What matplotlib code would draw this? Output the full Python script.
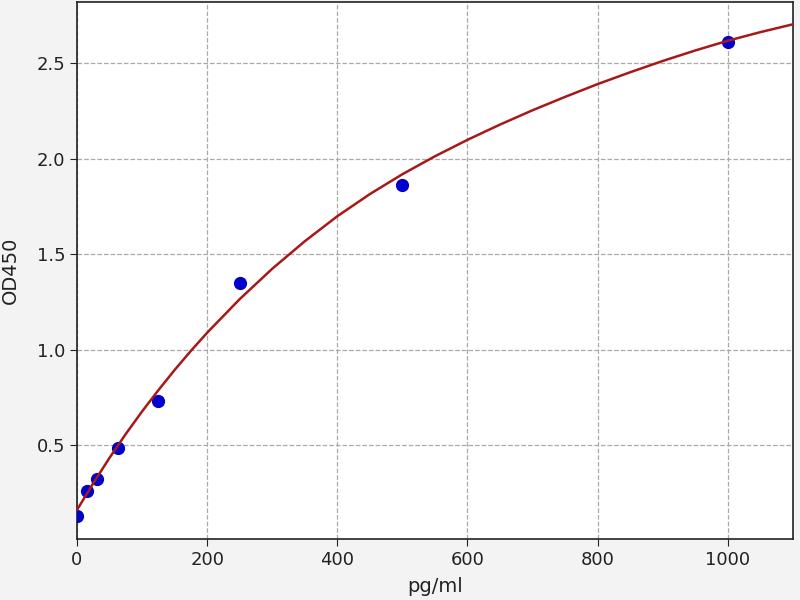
import matplotlib
matplotlib.use('Agg')
from matplotlib import pyplot as plt

# standard points
conc = [0, 15.6, 31.25, 62.5, 125, 250, 500, 1000]
od = [0.130, 0.261, 0.322, 0.483, 0.732, 1.347, 1.863, 2.612]

# fitted curve
curve_x = [0, 25, 50, 75, 100, 125, 150, 175, 200, 250, 300, 350, 400, 450,
           500, 550, 600, 650, 700, 750, 800, 850, 900, 950, 1000, 1050, 1100]
curve_y = [0.160, 0.300, 0.433, 0.558, 0.676, 0.787, 0.893, 0.993, 1.088,
           1.264, 1.423, 1.567, 1.698, 1.814, 1.918, 2.012, 2.098, 2.178, 2.253,
           2.323, 2.390, 2.452, 2.511, 2.566, 2.617, 2.662, 2.703]

fig = plt.figure(figsize=(8, 6), dpi=100, facecolor='#f3f3f3')
ax = fig.add_axes([0.09625, 0.1017, 0.8948, 0.895])
ax.set_facecolor('white')

ax.plot(conc, od, 'o', color='#0000cc', markersize=8.5, zorder=3)
ax.plot(curve_x, curve_y, '-', color='#a81818', linewidth=1.8, zorder=4)

ax.set_xlim(0, 1100)
ax.set_ylim(0.008, 2.82)
ax.set_xticks([0, 200, 400, 600, 800, 1000])
ax.set_yticks([0.5, 1.0, 1.5, 2.0, 2.5])
ax.grid(True, linestyle='--', color='#aaaaaa', linewidth=0.9)
ax.tick_params(labelsize=13, length=5, colors='#222222')
for s in ax.spines.values():
    s.set_color('#222222')
    s.set_linewidth(1.2)

ax.set_xlabel('pg/ml', fontsize=14, color='#222222', labelpad=6)
ax.set_ylabel('OD450', fontsize=14, color='#222222', labelpad=12)

fig.savefig('out.png', dpi=100, facecolor=fig.get_facecolor())
